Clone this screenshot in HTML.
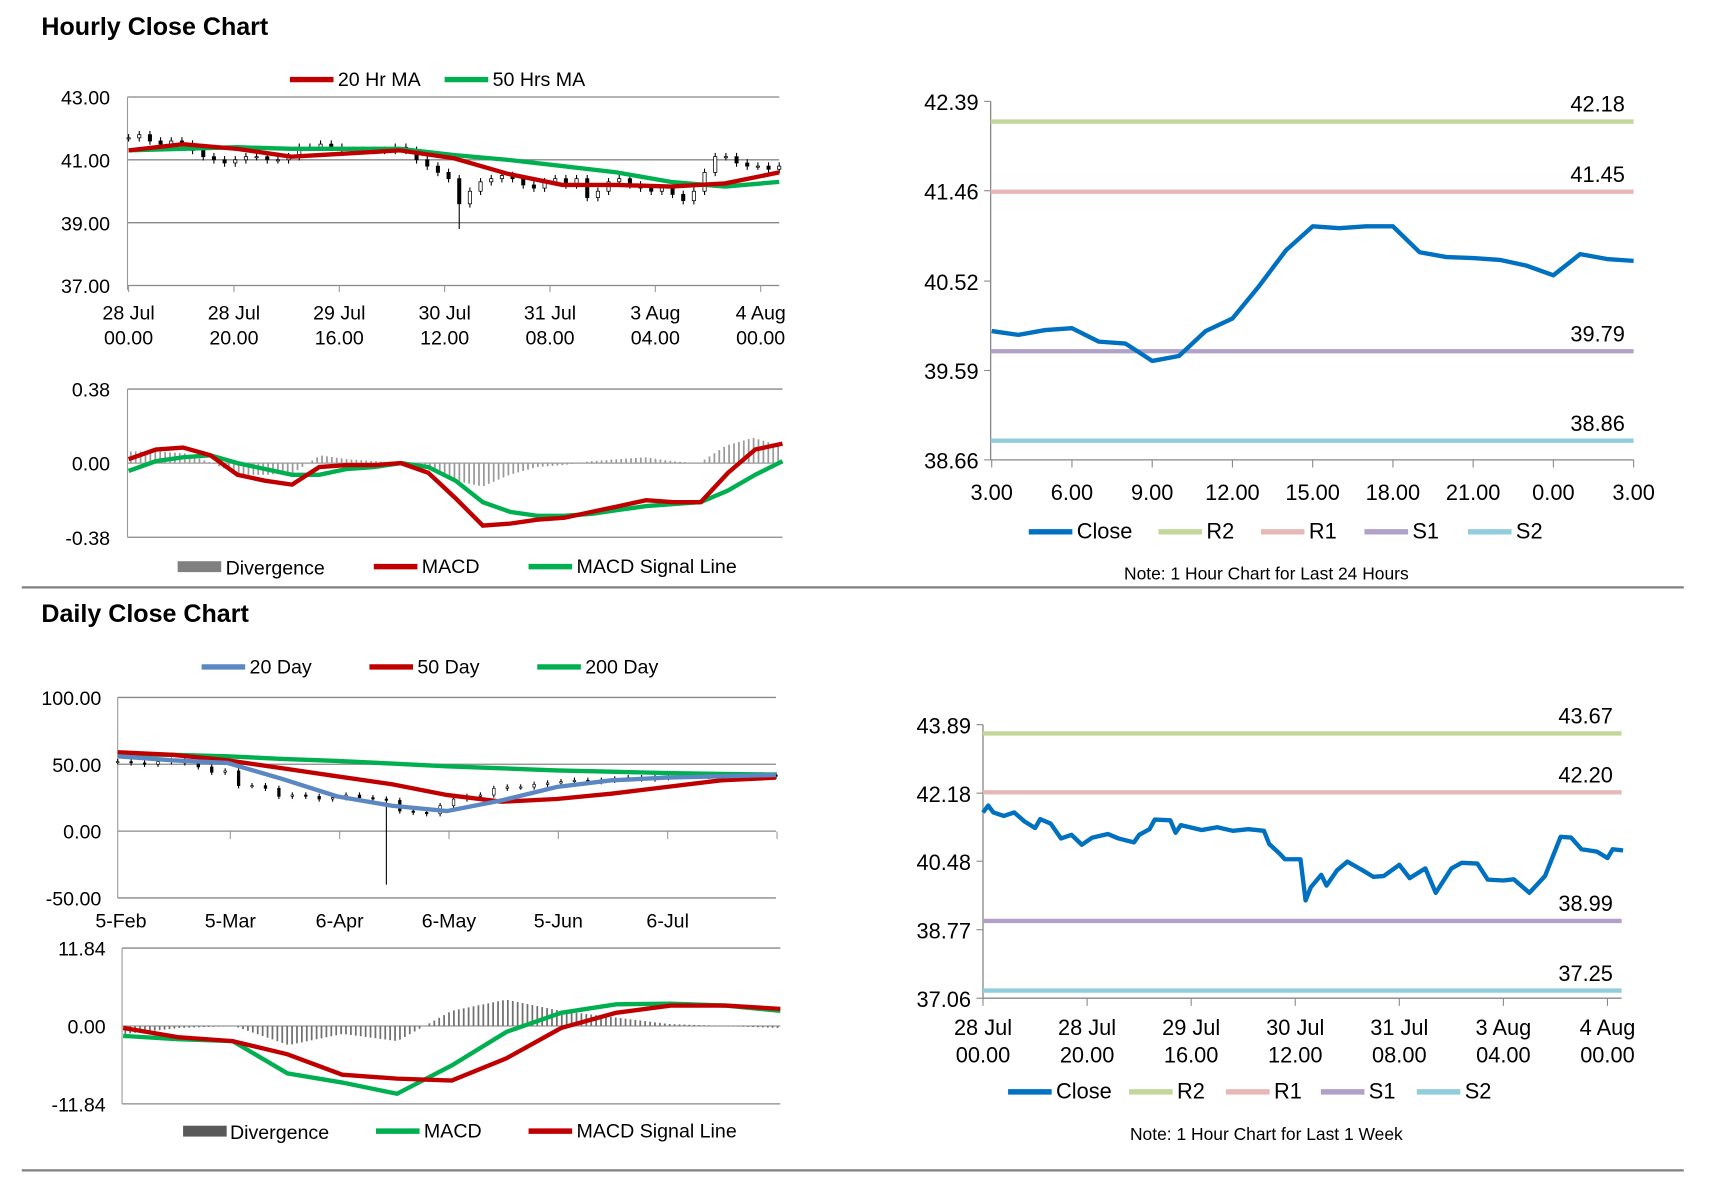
<!DOCTYPE html>
<html><head><meta charset="utf-8"><style>
html,body{margin:0;padding:0;background:#fff;}
svg{display:block;}
text{font-family:"Liberation Sans Narrow","Liberation Sans",sans-serif;fill:#000;}
.t{font-family:"Liberation Sans",sans-serif;font-weight:bold;}
</style></head><body>
<svg id="chart" width="1711" height="1178" viewBox="0 0 1570 1081" preserveAspectRatio="none" xmlns="http://www.w3.org/2000/svg"></svg>
<script>
// ---------- Hourly candle chart ----------
const hCloses=[41.7,41.8,41.6,41.5,41.6,41.5,41.3,41.1,41.0,40.9,41.0,41.1,41.1,41.0,41.0,41.1,41.4,41.4,41.5,41.4,41.3,41.3,41.3,41.3,41.3,41.4,41.3,41.0,40.8,40.6,40.4,39.6,40.0,40.3,40.4,40.5,40.4,40.2,40.1,40.3,40.4,40.2,40.4,39.8,40.0,40.3,40.4,40.2,40.1,40.0,40.1,39.9,39.7,40.0,40.6,41.1,41.1,40.9,40.8,40.8,40.7,40.8];
const hSpikeIndex=31, hSpikeLow=38.8;
const hMA20=[41.3,41.5,41.35,41.1,41.2,41.3,41.05,40.55,40.2,40.2,40.15,40.25,40.6];
const hMA50=[41.3,41.35,41.4,41.35,41.35,41.35,41.15,41.0,40.8,40.6,40.3,40.15,40.3];
const hYTicks=[43,41,39,37];
const hXLabels=[["28 Jul","00.00"],["28 Jul","20.00"],["29 Jul","16.00"],["30 Jul","12.00"],["31 Jul","08.00"],["3 Aug","04.00"],["4 Aug","00.00"]];
const hMacd=[0.02,0.07,0.08,0.04,-0.06,-0.09,-0.11,-0.02,-0.01,-0.01,0.0,-0.05,-0.18,-0.32,-0.31,-0.29,-0.28,-0.25,-0.22,-0.19,-0.20,-0.20,-0.05,0.07,0.10];
const hSignal=[-0.04,0.01,0.03,0.04,0.0,-0.03,-0.06,-0.06,-0.03,-0.02,0.0,-0.02,-0.09,-0.20,-0.25,-0.27,-0.27,-0.26,-0.24,-0.22,-0.21,-0.20,-0.14,-0.06,0.01];
const hMacdTicks=[0.38,0,-0.38];
// ---------- 24h close ----------
const d24Labels=["3.00","6.00","9.00","12.00","15.00","18.00","21.00","0.00","3.00"];
const d24Close=[40.00,39.96,40.01,40.03,39.89,39.87,39.69,39.74,40.00,40.13,40.47,40.84,41.09,41.07,41.09,41.09,40.82,40.77,40.76,40.74,40.68,40.58,40.80,40.75,40.73];
const d24Ticks=[42.39,41.46,40.52,39.59,38.66];
const d24Levels=[42.18,41.45,39.79,38.86];
// ---------- Daily chart ----------
const dCloses=[52,51,50,52,53,51,48,44,45,34,34,32,26,27,26,24,25,27,25,24,23,15,14,13,19,24,26,27,32,33,33,35,36,37,38,37,38,39,40,39,40,41,41,41,42,41,42,41,42,41];
const dSpikeIndex=20, dSpikeLow=-40;
const d20=[56,53,51,39,26,19,15,23,33,38,40,41,42];
const d50=[59,57,53,47,41,35,27,22,24,28,33,38,40];
const d200=[57.5,57,56,54,52.5,50.5,48.5,47,45.4,44.5,43.4,42.8,42.3];
const dYTicks=[100,50,0,-50];
const dXLabels=["5-Feb","5-Mar","6-Apr","6-May","5-Jun","6-Jul"];
const dMacd=[-1.5,-2,-2.3,-7.2,-8.6,-10.3,-6,-0.9,2.0,3.3,3.4,3.1,2.3];
const dSignal=[-0.3,-1.7,-2.3,-4.3,-7.4,-8.0,-8.3,-4.9,-0.3,2.0,3.1,3.1,2.6];
const dMacdTicks=[11.84,0,-11.84];
// ---------- 1 week close ----------
const wHours=[0,1,2,4,6,8,10,11,13,15,17,19,21,24,26,29,30,32,33,36,37,38,42,45,48,51,54,55,57,58,61,62,63,65,66,68,70,73,75,77,80,82,85,87,90,92,95,97,100,102,105,108,111,113,115,118,120,121,123];
const wClose=[41.70,41.87,41.70,41.61,41.70,41.47,41.31,41.53,41.42,41.05,41.14,40.89,41.07,41.16,41.05,40.95,41.14,41.28,41.52,41.50,41.19,41.38,41.26,41.33,41.24,41.28,41.24,40.91,40.67,40.53,40.53,39.50,39.83,40.14,39.87,40.25,40.47,40.25,40.09,40.11,40.39,40.06,40.30,39.69,40.30,40.44,40.42,40.02,40.00,40.03,39.69,40.11,41.09,41.07,40.78,40.72,40.56,40.78,40.75];
const wTicks=[43.89,42.18,40.48,38.77,37.06];
const wLevels=[43.67,42.20,38.99,37.25];
const wXLabels=[["28 Jul","00.00"],["28 Jul","20.00"],["29 Jul","16.00"],["30 Jul","12.00"],["31 Jul","08.00"],["3 Aug","04.00"],["4 Aug","00.00"]];

const NS="http://www.w3.org/2000/svg";
const svg=document.getElementById('chart');
function mk(tag,attrs,parent){const e=document.createElementNS(NS,tag);for(const k in attrs)e.setAttribute(k,attrs[k]);(parent||svg).appendChild(e);return e;}
function txt(s,x,y,size,anchor,parent,cls){const t=mk('text',{x:x,y:y,'font-size':size,'text-anchor':anchor||'start'},parent);if(cls)t.setAttribute('class',cls);t.textContent=s;return t;}
function lin(d0,d1,r0,r1){return v=>r0+(v-d0)/(d1-d0)*(r1-r0);}
function pathOf(xs,ys){return xs.map((x,i)=>(i?'L':'M')+x.toFixed(1)+' '+ys[i].toFixed(1)).join(' ');}
function legendLine(g,x,y,color,label,w,h){const l=mk('line',{x1:x,y1:y,x2:x+40,y2:y,stroke:color,'stroke-width':h||5},g);const t=txt(label,x+44,y+6,w||18,'start',g);}
// thin divergence bars drawn along the macd-signal difference
function divBars(g,macd,sig,x0,x1,y,color,step){
 const n=macd.length-1;
 for(let px=x0;px<=x1;px+=step){const f=(px-x0)/(x1-x0)*n;const i=Math.min(n-1,Math.floor(f)),t=f-i;
  const d=(macd[i]+(macd[i+1]-macd[i])*t)-(sig[i]+(sig[i+1]-sig[i])*t);
  const b=mk('rect',{x:px-0.8,y:Math.min(y(0),y(d)),width:1.6,height:Math.abs(y(d)-y(0)),fill:color},g);
  
  }
}

let t1=txt("Hourly Close Chart",38,32,23,'start',svg,'t');


let t2=txt("Daily Close Chart",38,571,23,'start',svg,'t');


let r1=mk('line',{x1:20,y1:539,x2:1545,y2:539,stroke:'#808080','stroke-width':2});


let r2=mk('line',{x1:20,y1:1074,x2:1545,y2:1074,stroke:'#808080','stroke-width':2});



// ---- Hourly candle chart ----
(function(){
const g=mk('g',{});


const X0=118,X1=715,y=lin(43,37,89,262);
hYTicks.forEach(v=>{const l=mk('line',{x1:117,y1:y(v),x2:715,y2:y(v),stroke:'#888','stroke-width':1.2},g);const t=txt(v.toFixed(2),101,y(v)+7,18,'end',g);});
mk('line',{x1:117,y1:89,x2:117,y2:266,stroke:'#999'},g);
const lx=lin(0,hXLabels.length-1,118,698);
hXLabels.forEach((s,i)=>{mk('line',{x1:lx(i),y1:262,x2:lx(i),y2:268,stroke:'#999'},g);const a=txt(s[0],lx(i),293,18,'middle',g);const b=txt(s[1],lx(i),316,18,'middle',g);});
const cx=lin(0,hCloses.length-1,X0,X1);
hCloses.forEach((c,i)=>{const o=i?hCloses[i-1]:c;const hi=Math.max(o,c)+0.12,lo=(i===hSpikeIndex?hSpikeLow:Math.min(o,c)-0.12);
 const w=mk('line',{x1:cx(i),y1:y(hi),x2:cx(i),y2:y(lo),stroke:'#000','stroke-width':1},g);
 const r=mk('rect',{x:cx(i)-1.5,y:y(Math.max(o,c)),width:3,height:Math.max(1,Math.abs(y(o)-y(c))),fill:c>=o?'#fff':'#000',stroke:'#000','stroke-width':0.7},g);});
const mx=lin(0,hMA20.length-1,X0,X1);
const p50=mk('path',{d:pathOf(hMA50.map((v,i)=>mx(i)),hMA50.map(y)),fill:'none',stroke:'#00b050','stroke-width':4},g);


const p20=mk('path',{d:pathOf(hMA20.map((v,i)=>mx(i)),hMA20.map(y)),fill:'none',stroke:'#c00000','stroke-width':4},g);


legendLine(g,266,73,'#c00000','20 Hr MA');
legendLine(g,408,73,'#00b050','50 Hrs MA');
})();

// ---- Hourly MACD ----
(function(){
const g=mk('g',{});


const y=lin(0.38,-0.38,357,493);
hMacdTicks.forEach(v=>{const l=mk('line',{x1:117,y1:y(v),x2:718,y2:y(v),stroke:v===0?'#999':'#888','stroke-width':1.2},g);const t=txt(v.toFixed(2),101,y(v)+7,18,'end',g);});
mk('line',{x1:117,y1:357,x2:117,y2:493,stroke:'#999'},g);
const x=lin(0,hMacd.length-1,118,718);
divBars(g,hMacd,hSignal,120,716,y,'#9a9a9a',4.5);
const ps=mk('path',{d:pathOf(hSignal.map((v,i)=>x(i)),hSignal.map(y)),fill:'none',stroke:'#00b050','stroke-width':4},g);


const pm=mk('path',{d:pathOf(hMacd.map((v,i)=>x(i)),hMacd.map(y)),fill:'none',stroke:'#c00000','stroke-width':4},g);


const sw=mk('rect',{x:163,y:515,width:40,height:10,fill:'#808080'},g);


const lt=txt('Divergence',207,527,18,'start',g);


legendLine(g,343,520,'#c00000','MACD');
legendLine(g,485,520,'#00b050','MACD Signal Line');
})();

function pivot(name,X0,X1,Y0,Y1,ticks,levels,xs,vals,xLabels,lxs,labY){
const g=mk('g',{});


const y=lin(ticks[0],ticks[ticks.length-1],Y0,Y1);
mk('line',{x1:X0,y1:Y0,x2:X0,y2:Y1,stroke:'#888','stroke-width':1.2},g);
mk('line',{x1:X0,y1:Y1,x2:X1,y2:Y1,stroke:'#888','stroke-width':1.2},g);
ticks.forEach(v=>{mk('line',{x1:X0-6,y1:y(v),x2:X0,y2:y(v),stroke:'#888'},g);const t=txt(v.toFixed(2),X0-11,y(v)+8,20,'end',g);});
const cols=['#c4d79b','#e6b9b8','#b1a0c7','#92cddc'];const nm=['r2','r1','s1','s2'];
levels.forEach((v,i)=>{const l=mk('line',{x1:X0,y1:y(v),x2:X1,y2:y(v),stroke:cols[i],'stroke-width':4},g);const t=txt(v.toFixed(2),X1-8,y(v)-9,20,'end',g);});
const p=mk('path',{d:pathOf(xs,vals.map(y)),fill:'none',stroke:'#0070c0','stroke-width':4,'stroke-linejoin':'round'},g);


xLabels.forEach((s,i)=>{mk('line',{x1:lxs[i],y1:Y1,x2:lxs[i],y2:Y1+7,stroke:'#888'},g);
 if(Array.isArray(s)){const a=txt(s[0],lxs[i],labY,20,'middle',g);const b=txt(s[1],lxs[i],labY+25,20,'middle',g);}
 else{const a=txt(s,lxs[i],labY,20,'middle',g);}});
return g;}

(function(){
const x=lin(0,d24Close.length-1,910,1499);
const lx=lin(0,d24Labels.length-1,910,1499);
const g=pivot('close-24h-chart',909,1499,93,422,d24Ticks,d24Levels,d24Close.map((v,i)=>x(i)),d24Close,d24Labels,d24Labels.map((s,i)=>lx(i)),459);
const items=[['#0070c0','Close',944],['#c4d79b','R2',1063],['#e6b9b8','R1',1157],['#b1a0c7','S1',1252],['#92cddc','S2',1347]];
items.forEach(it=>legendLine(g,it[2],488,it[0],it[1],20));
const n=txt('Note: 1 Hour Chart for Last 24 Hours',1162,532,16,'middle',g);


})();

(function(){
const x=lin(0,120,902,1475);
const lx=lin(0,wXLabels.length-1,902,1475);
const g=pivot('close-1week-chart',902,1488,665,916,wTicks,wLevels,wHours.map(x),wClose,wXLabels,wXLabels.map((s,i)=>lx(i)),950);
const items=[['#0070c0','Close',925],['#c4d79b','R2',1036],['#e6b9b8','R1',1125],['#b1a0c7','S1',1212],['#92cddc','S2',1300]];
items.forEach(it=>legendLine(g,it[2],1002,it[0],it[1],20));
const n=txt('Note: 1 Hour Chart for Last 1 Week',1162,1046,16,'middle',g);


})();

// ---- Daily price chart ----
(function(){
const g=mk('g',{});


const X0=108,X1=712,y=lin(100,-50,640,824);
dYTicks.forEach(v=>{const l=mk('line',{x1:108,y1:y(v),x2:712,y2:y(v),stroke:'#888','stroke-width':1.2},g);const t=txt(v.toFixed(2),93,y(v)+7,18,'end',g);});
mk('line',{x1:108,y1:640,x2:108,y2:824,stroke:'#999'},g);
const lx=lin(0,dXLabels.length,111,713);
dXLabels.forEach((s,i)=>{const t=txt(s,lx(i),851,18,'middle',g);});
for(let i=1;i<=dXLabels.length;i++)mk('line',{x1:lx(i),y1:763,x2:lx(i),y2:770,stroke:'#999'},g);
const cx=lin(0,dCloses.length-1,X0,X1);
dCloses.forEach((c,i)=>{const o=i?dCloses[i-1]:c;const hi=Math.max(o,c)+2,lo=(i===dSpikeIndex?dSpikeLow:Math.min(o,c)-2);
 const w=mk('line',{x1:cx(i),y1:y(hi),x2:cx(i),y2:y(lo),stroke:'#000','stroke-width':1},g);
 const r=mk('rect',{x:cx(i)-1.2,y:y(Math.max(o,c)),width:2.4,height:Math.max(1,Math.abs(y(o)-y(c))),fill:c>=o?'#fff':'#000',stroke:'#000','stroke-width':0.6},g);});
const mx=lin(0,d20.length-1,X0,X1);
const a=mk('path',{d:pathOf(d200.map((v,i)=>mx(i)),d200.map(y)),fill:'none',stroke:'#00b050','stroke-width':4},g);


const b=mk('path',{d:pathOf(d50.map((v,i)=>mx(i)),d50.map(y)),fill:'none',stroke:'#c00000','stroke-width':4},g);


const c=mk('path',{d:pathOf(d20.map((v,i)=>mx(i)),d20.map(y)),fill:'none',stroke:'#5b87c2','stroke-width':4},g);


legendLine(g,185,612,'#5b87c2','20 Day');
legendLine(g,339,612,'#c00000','50 Day');
legendLine(g,493,612,'#00b050','200 Day');
})();

// ---- Daily MACD ----
(function(){
const g=mk('g',{});


const y=lin(11.84,-11.84,870,1013);
dMacdTicks.forEach(v=>{const l=mk('line',{x1:112,y1:y(v),x2:716,y2:y(v),stroke:v===0?'#999':'#888','stroke-width':1.2},g);const t=txt(v.toFixed(2),97,y(v)+7,18,'end',g);});
mk('line',{x1:112,y1:870,x2:112,y2:1013,stroke:'#999'},g);
const x=lin(0,dMacd.length-1,113,716);
divBars(g,dMacd,dSignal,115,714,y,'#707070',4.5);
const pm=mk('path',{d:pathOf(dMacd.map((v,i)=>x(i)),dMacd.map(y)),fill:'none',stroke:'#00b050','stroke-width':4},g);


const ps=mk('path',{d:pathOf(dSignal.map((v,i)=>x(i)),dSignal.map(y)),fill:'none',stroke:'#c00000','stroke-width':4},g);


const sw=mk('rect',{x:168,y:1033,width:40,height:10,fill:'#595959'},g);


const lt=txt('Divergence',211,1045,18,'start',g);


legendLine(g,345,1038,'#00b050','MACD');
legendLine(g,485,1038,'#c00000','MACD Signal Line');
})();
</script>
</body></html>
